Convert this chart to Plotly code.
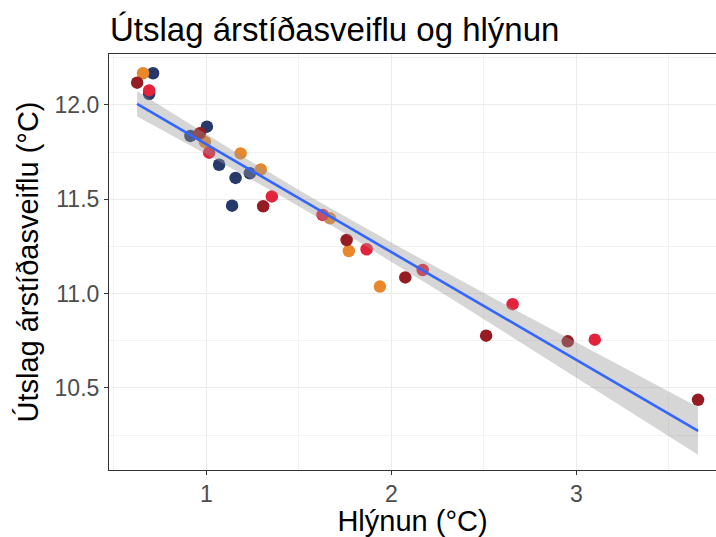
import numpy as np
import plotly.graph_objects as go

# Warming (°C) and amplitude of the seasonal cycle (°C), four groups of stations
navy_x = [0.712, 0.691, 0.914, 1.003, 1.069, 1.158, 1.235, 1.139]
navy_y = [12.168, 12.058, 11.836, 11.885, 11.683, 11.613, 11.638, 11.466]

orange_x = [0.658, 0.992, 1.185, 1.294, 1.668, 1.770, 1.938]
orange_y = [12.168, 11.804, 11.743, 11.658, 11.399, 11.226, 11.037]

darkred_x = [0.626, 0.965, 1.307, 1.758, 2.075, 2.512, 2.953, 3.657]
darkred_y = [12.118, 11.850, 11.463, 11.284, 11.086, 10.777, 10.747, 10.437]

red_x = [0.691, 1.015, 1.354, 1.628, 1.866, 2.169, 2.655, 3.099]
red_y = [12.077, 11.747, 11.515, 11.417, 11.235, 11.125, 10.944, 10.756]

groups = [
    (navy_x, navy_y, "#27396b"),
    (orange_x, orange_y, "#e8872b"),
    (darkred_x, darkred_y, "#951c22"),
    (red_x, red_y, "#e3223b"),
]

x_ticks = [1, 2, 3]
y_ticks = [10.5, 11.0, 11.5, 12.0]
y_tick_text = ["10.5", "11.0", "11.5", "12.0"]

FONT = "Liberation Sans, Arial, Helvetica, sans-serif"

fig = go.Figure()

for gx, gy, col in groups:
    fig.add_trace(go.Scatter(
        x=gx, y=gy, mode="markers",
        marker=dict(size=12.5, color=col, line=dict(width=0)),
        showlegend=False, hoverinfo="x+y",
    ))

# Ordinary least squares fit with a 95% confidence band
all_x = np.array(navy_x + orange_x + darkred_x + red_x)
all_y = np.array(navy_y + orange_y + darkred_y + red_y)
n = len(all_x)
slope, intercept = np.polyfit(all_x, all_y, 1)
resid = all_y - (intercept + slope * all_x)
s = np.sqrt(np.sum(resid ** 2) / (n - 2))
t_crit = 2.045  # Student t, 0.975 quantile, 29 degrees of freedom
xbar = all_x.mean()
sxx = np.sum((all_x - xbar) ** 2)
xs = np.linspace(all_x.min(), all_x.max(), 80)
fit = intercept + slope * xs
se = s * np.sqrt(1.0 / n + (xs - xbar) ** 2 / sxx)
upper = fit + t_crit * se
lower = fit - t_crit * se

fig.add_trace(go.Scatter(
    x=np.concatenate([xs, xs[::-1]]),
    y=np.concatenate([upper, lower[::-1]]),
    fill="toself", fillcolor="rgba(153,153,153,0.4)",
    line=dict(width=0), mode="lines", showlegend=False, hoverinfo="skip",
))
fig.add_trace(go.Scatter(
    x=xs, y=fit, mode="lines",
    line=dict(color="#3366FF", width=2.6),
    showlegend=False, hoverinfo="skip",
))

axis_common = dict(
    showgrid=True, gridcolor="#ebebeb", gridwidth=1.1,
    zeroline=False,
    showline=True, linecolor="#333333", linewidth=1.1,
    ticks="outside", ticklen=4, tickcolor="#333333", tickwidth=1.1,
    tickfont=dict(family=FONT, size=23, color="#4d4d4d"),
)

fig.update_xaxes(
    **axis_common,
    range=[0.474, 3.754],
    tickvals=x_ticks,
    mirror=True,
    ticklabelstandoff=-1,
    minor=dict(showgrid=True, gridcolor="#f2f2f2", gridwidth=0.6, dtick=0.5, tick0=0.5, ticks=""),
    title=dict(text="Hlýnun (°C)", font=dict(family=FONT, size=29, color="black"), standoff=2),
)
fig.update_yaxes(
    **axis_common,
    range=[10.065, 12.27],
    tickvals=y_ticks, ticktext=y_tick_text,
    minor=dict(showgrid=True, gridcolor="#f2f2f2", gridwidth=0.6, dtick=0.25, tick0=0.25, ticks=""),
    title=dict(text="Útslag árstíðasveiflu (°C)", font=dict(family=FONT, size=29, color="black"), standoff=7),
)

fig.update_layout(
    width=716, height=537,
    margin=dict(l=109, r=0, t=54, b=67),
    paper_bgcolor="white", plot_bgcolor="white",
    title=dict(text="Útslag árstíðasveiflu og hlýnun",
               font=dict(family=FONT, size=33, color="black"),
               x=110 / 716, xanchor="left", y=1 - 29 / 537, yanchor="middle"),
)

fig.write_html("out.html")
